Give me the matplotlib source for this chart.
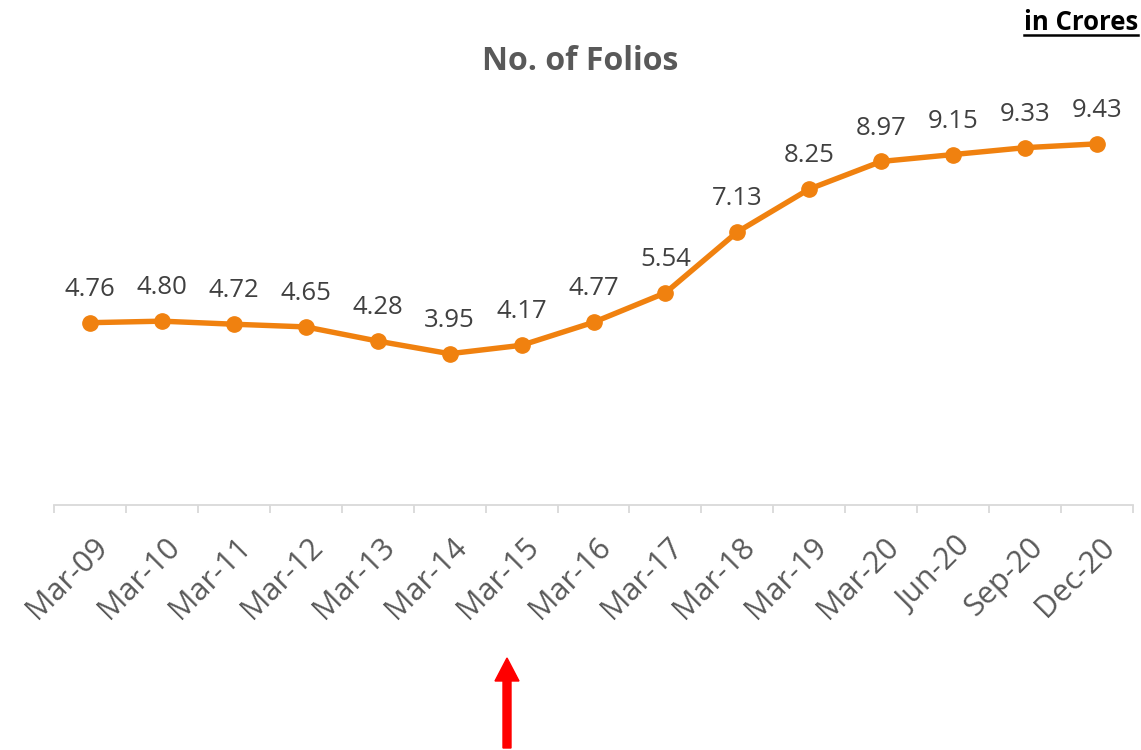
import matplotlib
matplotlib.use('Agg')
import matplotlib.pyplot as plt
import matplotlib.patches as mpatches
import matplotlib.transforms as mtransforms
import matplotlib.lines as mlines
import numpy as np

periods = ['Mar-09', 'Mar-10', 'Mar-11', 'Mar-12', 'Mar-13', 'Mar-14', 'Mar-15', 'Mar-16',
           'Mar-17', 'Mar-18', 'Mar-19', 'Mar-20', 'Jun-20', 'Sep-20', 'Dec-20']
folios = [4.76, 4.80, 4.72, 4.65, 4.28, 3.95, 4.17, 4.77, 5.54, 7.13, 8.25, 8.97, 9.15, 9.33, 9.43]

plt.rcParams['font.family'] = ['Open Sans', 'DejaVu Sans']
orange = '#F0810F'
grey = '#595959'

fig = plt.figure(figsize=(11.41, 7.5), dpi=100)
ax = fig.add_axes([54/1141, 245/750, (1133-54)/1141, 383/750])

x = np.arange(len(periods))
ax.plot(x, folios, color=orange, lw=3.9, marker='o', ms=11, solid_capstyle='round')
for xi, v in zip(x, folios):
    ax.annotate('%.2f' % v, (xi, v), xytext=(0, 15), textcoords='offset points',
                ha='center', va='bottom', fontsize=18.5, color='#404040')

ax.set_xlim(-0.5, len(periods) - 0.5)
ax.set_ylim(0, 10)
for s in ['top', 'right', 'left']:
    ax.spines[s].set_visible(False)
ax.spines['bottom'].set_color('#d9d9d9')
ax.spines['bottom'].set_linewidth(1.3)
ax.set_yticks([])
ax.set_xticks(x)
ax.set_xticklabels(periods, rotation=45, ha='right', va='center', rotation_mode='anchor',
                   fontsize=22, color=grey)
ax.tick_params(axis='x', which='major', length=0, pad=27)
ax.set_xticks(np.arange(-0.5, len(periods), 1.0), minor=True)
ax.tick_params(axis='x', which='minor', length=6, width=1.3, color='#d9d9d9')
shift = mtransforms.ScaledTranslation(0.13, 0, fig.dpi_scale_trans)
for lab in ax.get_xticklabels():
    lab.set_transform(lab.get_transform() + shift)

fig.text(580/1141, 1 - 62/750, 'No. of Folios', ha='center', va='center',
         fontsize=23, fontweight='bold', color=grey)
unit = fig.text(1138/1141, 1 - 23/750, 'in Crores', ha='right', va='center',
                fontsize=18.5, fontweight='bold', color='black')

# underline under "in Crores"
fig.canvas.draw()
bb = unit.get_window_extent().transformed(fig.transFigure.inverted())
fig.add_artist(mlines.Line2D([bb.x0, bb.x1], [bb.y0 + 0.002, bb.y0 + 0.002],
                             color='black', lw=1.8, transform=fig.transFigure))

arrow = mpatches.FancyArrow(5.07, 0.02, 0, 0.90, width=0.08, head_width=0.24, head_length=0.23,
                            length_includes_head=True, color='red', transform=fig.dpi_scale_trans)
fig.add_artist(arrow)

fig.savefig('out.png', dpi=100)
